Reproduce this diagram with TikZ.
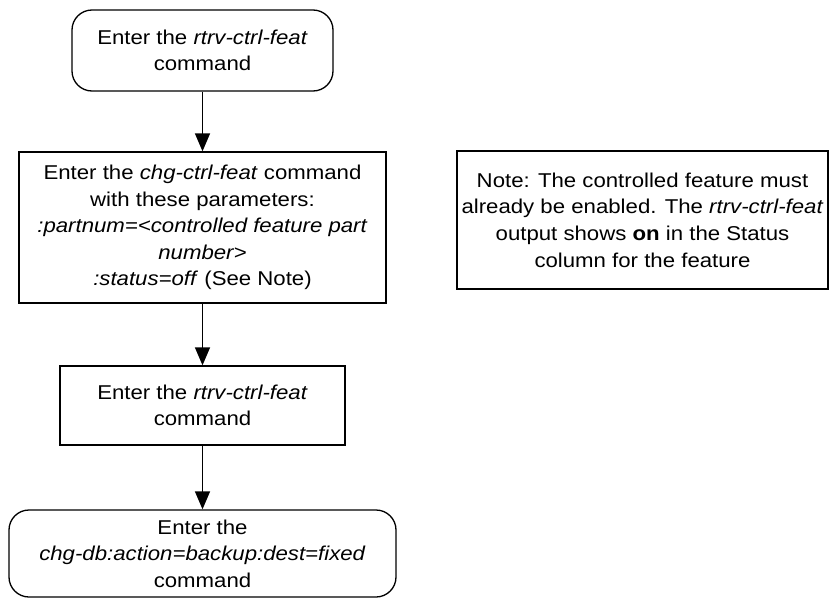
\documentclass[tikz,border=0pt]{standalone}
\usepackage{fontspec}
\setmainfont{Liberation Sans}[FakeStretch=1.11]
\usetikzlibrary{arrows.meta}
\begin{document}
\begin{tikzpicture}[x=1pt,y=-1pt,
  base/.style={draw, line width=1.3pt, align=center, inner sep=0pt,
    font=\fontsize{20}{26.6}\selectfont},
  term/.style={base, rounded corners=20pt},
  proc/.style={base},
  conn/.style={line width=1.3pt, -{Triangle[length=18pt,width=15pt]}}]
\useasboundingbox (0,0) rectangle (831,608);
\node[term, minimum width=261pt, minimum height=81pt] (a) at (202.5,50.5)
  {Enter the \textit{rtrv-ctrl-feat}\\command};
\node[proc, minimum width=367pt, minimum height=151pt] (b) at (202.5,227.5)
  {Enter the \textit{chg-ctrl-feat} command\\with these parameters:\\\textit{:partnum=<controlled feature part}\\\textit{number>}\\\textit{:status=off} (See Note)};
\node[proc, minimum width=285pt, minimum height=79pt] (c) at (202.5,405.5)
  {Enter the \textit{rtrv-ctrl-feat}\\command};
\node[term, minimum width=387pt, minimum height=87pt] (d) at (202.5,553.5)
  {Enter the\\\textit{chg-db:action=backup:dest=fixed}\\command};
\node[proc, minimum width=371pt, minimum height=138pt] (n) at (642.5,220)
  {Note: The controlled feature must\\already be enabled. The \textit{rtrv-ctrl-feat}\\output shows \textbf{on} in the Status\\column for the feature};
\draw[conn] (a) -- (b);
\draw[conn] (b) -- (c);
\draw[conn] (c) -- (d);
\end{tikzpicture}
\end{document}
